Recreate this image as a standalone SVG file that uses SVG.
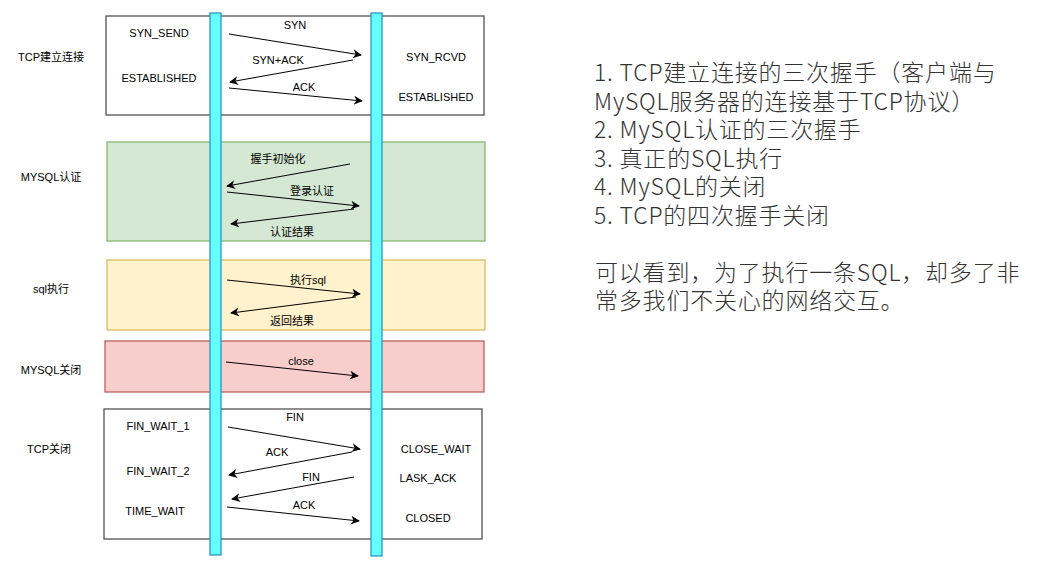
<svg xmlns="http://www.w3.org/2000/svg" width="1057" height="566" viewBox="0 0 1057 566">
<style>
.lbl{font-family:"Liberation Sans","Noto Sans CJK SC",sans-serif;font-size:11px;fill:#000;text-anchor:middle;dominant-baseline:central}
.box{stroke-width:1.2}
.ln{stroke:#000;stroke-width:1;fill:none;marker-end:url(#ah)}
.big{font-family:"Noto Sans CJK SC","Noto Sans",sans-serif;font-size:23px;letter-spacing:0.8px;font-weight:300;fill:#333}
.life{fill:#66ffff;stroke:#1d8fc4;stroke-width:1.2}
</style>
<defs>
<marker id="ah" viewBox="0 0 10 10" refX="9" refY="5" markerWidth="9" markerHeight="9" orient="auto" markerUnits="userSpaceOnUse">
<path d="M0,0 L10,5 L0,10 L3,5 z" fill="#000"/>
</marker>
</defs>
<rect width="1057" height="566" fill="#fff"/>
<g id="tcp-open">
<rect class="box" x="106" y="16" width="378" height="99" fill="#fff" stroke="#444"/>
<text class="lbl" x="51" y="57">TCP建立连接</text>
<text class="lbl" x="159" y="33">SYN_SEND</text>
<text class="lbl" x="159" y="78">ESTABLISHED</text>
<text class="lbl" x="436" y="57">SYN_RCVD</text>
<text class="lbl" x="436" y="97">ESTABLISHED</text>
</g>
<g id="mysql-auth">
<rect class="box" x="107" y="142" width="378" height="99" fill="#d5e8d4" stroke="#82b366"/>
<text class="lbl" x="51" y="177">MYSQL认证</text>
</g>
<g id="sql-exec">
<rect class="box" x="107" y="260" width="378" height="70" fill="#fff2cc" stroke="#d6b656"/>
<text class="lbl" x="51" y="289">sql执行</text>
</g>
<g id="mysql-close">
<rect class="box" x="105" y="341" width="379" height="51" fill="#f8cecc" stroke="#b85450"/>
<text class="lbl" x="51" y="370">MYSQL关闭</text>
</g>
<g id="tcp-close">
<rect class="box" x="104" y="409" width="378" height="130" fill="#fff" stroke="#444"/>
<text class="lbl" x="49" y="449">TCP关闭</text>
<text class="lbl" x="158" y="426">FIN_WAIT_1</text>
<text class="lbl" x="158" y="471">FIN_WAIT_2</text>
<text class="lbl" x="155" y="511">TIME_WAIT</text>
<text class="lbl" x="436" y="449">CLOSE_WAIT</text>
<text class="lbl" x="428" y="478">LASK_ACK</text>
<text class="lbl" x="428" y="518">CLOSED</text>
</g>
<g id="lifeline-client">
<rect class="life" x="210" y="13" width="11" height="542"/>
</g>
<g id="lifeline-server">
<rect class="life" x="371" y="13" width="11" height="543"/>
</g>
<g id="connectors">
<line class="ln" x1="229" y1="34" x2="361" y2="55"/>
<text class="lbl" x="295" y="25">SYN</text>
<line class="ln" x1="353" y1="60" x2="230" y2="82"/>
<text class="lbl" x="278" y="60">SYN+ACK</text>
<line class="ln" x1="229" y1="88" x2="362" y2="101"/>
<text class="lbl" x="304" y="87">ACK</text>

<line class="ln" x1="350" y1="164" x2="227" y2="186"/>
<text class="lbl" x="278" y="159">握手初始化</text>
<line class="ln" x1="227" y1="192" x2="359" y2="206"/>
<text class="lbl" x="312" y="191">登录认证</text>
<line class="ln" x1="354" y1="209" x2="231" y2="224"/>
<text class="lbl" x="292" y="232">认证结果</text>

<line class="ln" x1="227" y1="280" x2="360" y2="294"/>
<text class="lbl" x="308" y="280">执行sql</text>
<line class="ln" x1="356" y1="297" x2="231" y2="313"/>
<text class="lbl" x="292" y="321">返回结果</text>

<line class="ln" x1="226" y1="362" x2="358" y2="376"/>
<text class="lbl" x="301" y="361">close</text>

<line class="ln" x1="228" y1="427" x2="360" y2="449"/>
<text class="lbl" x="295" y="417">FIN</text>
<line class="ln" x1="352" y1="452" x2="229" y2="475"/>
<text class="lbl" x="277" y="452">ACK</text>
<line class="ln" x1="354" y1="477" x2="232" y2="499"/>
<text class="lbl" x="311" y="477">FIN</text>
<line class="ln" x1="227" y1="507" x2="359" y2="521"/>
<text class="lbl" x="304" y="505">ACK</text>
</g>
<g id="notes">
<text class="big" x="594" y="81">1. TCP建立连接的三次握手（客户端与</text>
<text class="big" x="594" y="109.5">MySQL服务器的连接基于TCP协议）</text>
<text class="big" x="594" y="138">2. MySQL认证的三次握手</text>
<text class="big" x="594" y="166.5">3. 真正的SQL执行</text>
<text class="big" x="594" y="195">4. MySQL的关闭</text>
<text class="big" x="594" y="223.5">5. TCP的四次握手关闭</text>
<text class="big" x="595" y="281">可以看到，为了执行一条SQL，却多了非</text>
<text class="big" x="595" y="309">常多我们不关心的网络交互。</text>
</g>
</svg>
